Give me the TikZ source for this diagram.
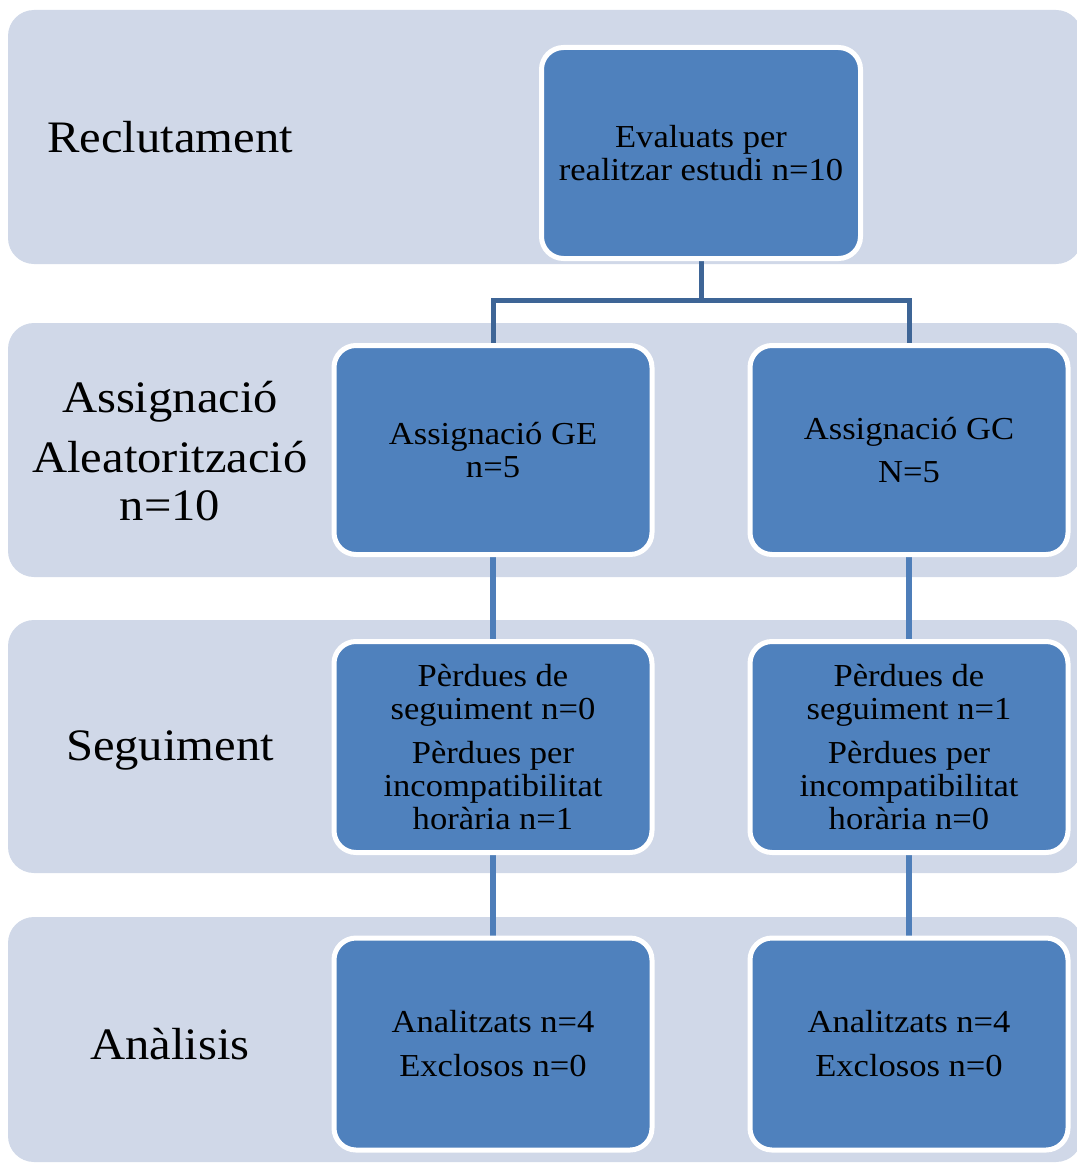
\documentclass[tikz,border=0pt]{standalone}
\usepackage{fontspec}
\setmainfont{Liberation Serif}[FakeStretch=1.08]
\definecolor{bandfill}{HTML}{D0D8E8}
\definecolor{boxfill}{HTML}{4F81BD}
\definecolor{connA}{HTML}{3E6596}
\definecolor{connB}{HTML}{4E7EB9}
\pgfdeclarelayer{bands}
\pgfdeclarelayer{lines}
\pgfsetlayers{bands,lines,main}
\tikzset{
  band/.style={fill=bandfill, draw=none, rounded corners=26pt},
  flowbox/.style={rectangle, rounded corners=22pt, draw=white, line width=5pt,
    fill=boxfill, minimum width=318pt, align=center, inner sep=0pt,
    font=\fontsize{32}{33}\selectfont},
  bandlabel/.style={align=center, font=\fontsize{45}{48}\selectfont},
  connTop/.style={draw=connA, line width=5pt},
  connLow/.style={draw=connB, line width=5.5pt},
}
\begin{document}
\begin{tikzpicture}[x=1pt,y=-1pt]
\useasboundingbox (0,0) rectangle (1076,1164);
\begin{pgfonlayer}{bands}
\fill[band] (8,10) rectangle (1082,264);
\fill[band] (8,323) rectangle (1082,577);
\fill[band] (8,620) rectangle (1082,873);
\fill[band] (8,917) rectangle (1082,1162);
\end{pgfonlayer}

\node[bandlabel] (l1) at (170,137) {Reclutament};
\node[bandlabel] (l2) at (170,451) {Assignació\\[12pt]Aleatorització\\n=10};
\node[bandlabel] (l3) at (170,750) {Seguiment};
\node[bandlabel] (l4) at (170,1044) {Anàlisis};

\node[flowbox, minimum width=319pt, minimum height=211pt] (top) at (701,153) {Evaluats per\\realitzar estudi n=10};
\node[flowbox, minimum height=209pt] (ge) at (493,450) {Assignació GE\\n=5};
\node[flowbox, minimum height=209pt] (gc) at (909,450) {Assignació GC\\[10pt]N=5};
\node[flowbox, minimum height=211pt] (pe) at (493,747) {Pèrdues de\\seguiment n=0\\[11pt]Pèrdues per\\incompatibilitat\\horària n=1};
\node[flowbox, minimum height=211pt] (pc) at (909,747) {Pèrdues de\\seguiment n=1\\[11pt]Pèrdues per\\incompatibilitat\\horària n=0};
\node[flowbox, minimum height=212pt] (ae) at (493,1044) {Analitzats n=4\\[11pt]Exclosos n=0};
\node[flowbox, minimum height=212pt] (ac) at (909,1044) {Analitzats n=4\\[11pt]Exclosos n=0};

\begin{pgfonlayer}{lines}
\coordinate (split) at (701,300);
\draw[connTop] (top.south) -- (split);
\draw[connTop] (ge.north) |- (split) -| (gc.north);
\draw[connLow] (ge.south) -- (pe.north);
\draw[connLow] (gc.south) -- (pc.north);
\draw[connLow] (pe.south) -- (ae.north);
\draw[connLow] (pc.south) -- (ac.north);
\end{pgfonlayer}
\end{tikzpicture}
\end{document}
